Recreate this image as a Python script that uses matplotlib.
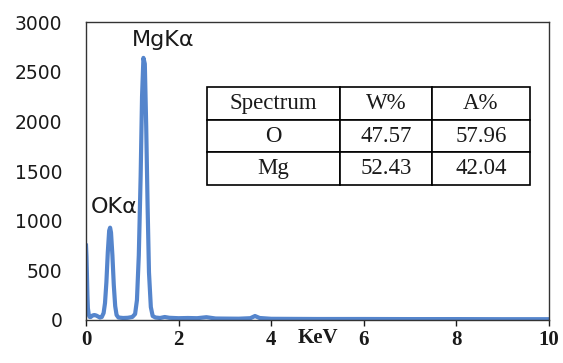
import matplotlib
matplotlib.use("Agg")
import matplotlib.pyplot as plt

# --- EDS spectrum ---
energy_kev = [0.00, 0.01, 0.02, 0.03, 0.04, 0.06, 0.08, 0.10, 0.14, 0.18,
              0.22, 0.26, 0.30, 0.34, 0.38, 0.41, 0.44, 0.47, 0.50, 0.52,
              0.54, 0.57, 0.60, 0.63, 0.66, 0.70, 0.80, 0.90, 1.00, 1.06,
              1.10, 1.14, 1.18, 1.21, 1.24, 1.27, 1.30, 1.33, 1.36, 1.40,
              1.44, 1.50, 1.60, 1.70, 1.80, 2.00, 2.20, 2.40, 2.60, 2.80,
              3.00, 3.30, 3.55, 3.65, 3.75, 4.00, 5.00, 6.00, 7.00, 8.00,
              9.00, 10.00]
counts = [750, 640, 450, 250, 120, 50, 30, 30, 45, 50,
          45, 35, 25, 30, 70, 170, 380, 680, 900, 930,
          880, 650, 350, 140, 50, 25, 20, 22, 30, 60,
          200, 650, 1450, 2250, 2640, 2580, 1950, 1150, 480, 130,
          40, 25, 20, 30, 22, 18, 20, 18, 28, 15,
          14, 13, 18, 40, 20, 12, 10, 10, 9, 9,
          8, 8]

peak_labels = ["OK\u03b1", "MgK\u03b1"]
peak_label_pos = [(0.60, 1140), (1.66, 2820)]

table_header = ["Spectrum", "W%", "A%"]
table_rows = [["O", "47.57", "57.96"],
              ["Mg", "52.43", "42.04"]]

x_ticks = [0, 2, 4, 6, 8, 10]
y_ticks = [0, 500, 1000, 1500, 2000, 2500, 3000]

LINE_COLOR = "#5585CC"
TEXT_COLOR = "#1a1a1a"

fig = plt.figure(figsize=(5.63, 3.63), dpi=100)
ax = fig.add_axes([0.1528, 0.1185, 0.8222, 0.8205])

ax.plot(energy_kev, counts, color=LINE_COLOR, linewidth=3.0, solid_joinstyle="round")

ax.set_xlim(0, 10)
ax.set_ylim(0, 3000)
ax.set_xticks(x_ticks)
ax.set_yticks(y_ticks)
ax.set_xticklabels([str(t) for t in x_ticks], fontfamily="Liberation Serif",
                   fontweight="bold", fontsize=15)
ax.set_yticklabels([str(t) for t in y_ticks], fontfamily="DejaVu Sans", fontsize=13.5)
ax.tick_params(axis="x", direction="out", length=4, width=1, pad=3, colors=TEXT_COLOR)
ax.tick_params(axis="y", length=0, pad=17, colors=TEXT_COLOR)
for sp in ax.spines.values():
    sp.set_color("#333333")
    sp.set_linewidth(1.0)

ax.text(5.0, -0.06, "KeV", transform=ax.get_xaxis_transform(), ha="center", va="center",
        fontfamily="Liberation Serif", fontweight="bold", fontsize=15, color=TEXT_COLOR)

for label, (px, py) in zip(peak_labels, peak_label_pos):
    ax.text(px, py, label, ha="center", va="center", fontsize=16, color=TEXT_COLOR)

tbl = ax.table(cellText=table_rows, colLabels=table_header, cellLoc="center",
               colWidths=[133, 92, 98], bbox=[0.261, 0.453, 0.698, 0.329])
tbl.auto_set_font_size(False)
for cell in tbl.get_celld().values():
    cell.set_edgecolor("black")
    cell.set_linewidth(1.2)
    cell.get_text().set_fontfamily("Liberation Serif")
    cell.get_text().set_fontsize(16.5)
    cell.get_text().set_color(TEXT_COLOR)

fig.savefig("out.png", dpi=100)
